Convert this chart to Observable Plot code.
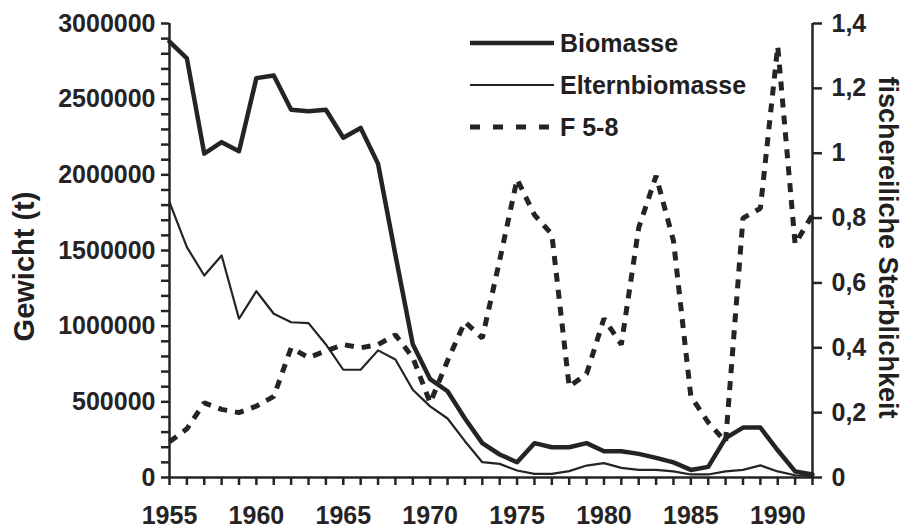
<!DOCTYPE html>
<html><head><meta charset="utf-8">
<script src="https://cdn.jsdelivr.net/npm/d3@7"></script>
<script src="https://cdn.jsdelivr.net/npm/@observablehq/plot@0.6"></script>
<style>
body{margin:0;background:#fff;}
#wrap{position:relative;width:908px;height:531px;font-family:"Liberation Sans",Arial,sans-serif;font-weight:bold;color:#231f20;}
.ttl{position:absolute;white-space:nowrap;transform-origin:center center;}
#legend{position:absolute;left:468px;top:22px;font-size:25px;line-height:1;}
.lr{display:flex;align-items:center;height:42px;}
.lr svg{margin-right:6px;}
</style></head><body><div id="wrap"></div>
<script>
const years = [1955,1956,1957,1958,1959,1960,1961,1962,1963,1964,1965,1966,1967,1968,1969,1970,1971,1972,1973,1974,1975,1976,1977,1978,1979,1980,1981,1982,1983,1984,1985,1986,1987,1988,1989,1990,1991,1992];
const biomasse = [2880000,2770000,2140000,2216000,2156000,2639000,2656000,2430000,2420000,2430000,2245000,2310000,2073000,1470000,880000,650000,570000,390000,227000,152000,101000,227000,200000,200000,227000,174000,174000,156000,130000,100000,50000,70000,260000,330000,330000,180000,40000,20000];
const elternbiomasse = [1819000,1522000,1335000,1467000,1049000,1231000,1082000,1026000,1020000,879000,712000,712000,840000,780000,580000,470000,390000,240000,101000,90000,46000,24000,24000,42000,79000,95000,64000,51000,50000,40000,20000,20000,40000,50000,80000,40000,15000,10000];
const f58 = [0.11,0.15,0.23,0.21,0.20,0.22,0.25,0.40,0.37,0.39,0.41,0.40,0.41,0.44,0.37,0.23,0.36,0.48,0.43,0.67,0.92,0.81,0.75,0.28,0.32,0.49,0.41,0.77,0.93,0.73,0.25,0.17,0.11,0.80,0.83,1.33,0.72,0.81];
const leftTicks = [0,100000,200000,300000,400000,500000,600000,700000,800000,900000,1000000,1100000,1200000,1300000,1400000,1500000,1600000,1700000,1800000,1900000,2000000,2100000,2200000,2300000,2400000,2500000,2600000,2700000,2800000,2900000,3000000];
const rightTicks = [0,0.2,0.4,0.6,0.8,1,1.2,1.4];
const xLabelYears = [1955,1960,1965,1970,1975,1980,1985,1990];
const seriesNames = ["Biomasse","Elternbiomasse","F 5-8"];
const yTitle = "Gewicht (t)";
const y2Title = "fischereiliche Sterblichkeit";

const INK = "#262324";
const K = 3000000/1.4;
const rows = years.map((yr,i)=>({year:yr, bio:biomasse[i], elt:elternbiomasse[i], f:f58[i]*K}));

const chart = Plot.plot({
  width:908, height:531,
  marginLeft:169, marginRight:96, marginTop:23, marginBottom:54,
  x:{domain:[1955,1992], axis:null},
  y:{domain:[0,3000000], axis:null},
  style:{fontFamily:'"Liberation Sans",Arial,sans-serif', fontWeight:"bold", fontSize:"25px", color:INK, background:"#fff", overflow:"visible"},
  marks:[
    Plot.axisY({ticks:leftTicks, tickFormat:d => d % 500000 === 0 ? String(d) : "", tickSize:8, tickPadding:6, strokeWidth:2.5, stroke:INK, fill:INK, label:null}),
    Plot.axisY({anchor:"right", ticks:rightTicks.map(v=>v*K), tickFormat:d => String(Math.round(d/K*10)/10).replace(".",","), tickSize:9, tickPadding:10, strokeWidth:2.5, stroke:INK, fill:INK, label:null}),
    Plot.axisX({ticks:years, tickFormat:d => xLabelYears.includes(d) ? String(d) : "", tickSize:8, tickPadding:21, strokeWidth:2.5, stroke:INK, fill:INK, label:null}),
    Plot.ruleX([1955,1992], {stroke:INK, strokeWidth:2.5}),
    Plot.ruleY([0], {stroke:INK, strokeWidth:2.5}),
    Plot.line(rows, {x:"year", y:"f", stroke:INK, strokeWidth:5, strokeDasharray:"9,8", strokeLinecap:"butt", strokeLinejoin:"miter"}),
    Plot.line(rows, {x:"year", y:"elt", stroke:INK, strokeWidth:2.2}),
    Plot.line(rows, {x:"year", y:"bio", stroke:INK, strokeWidth:4.5})
  ]
});
const wrap = document.getElementById("wrap");
wrap.appendChild(chart);

// axis titles
function addTitle(text, size, cx, cy, rot){
  const t = document.createElement("div");
  t.className = "ttl"; t.textContent = text; t.style.fontSize = size + "px";
  wrap.appendChild(t);
  const w = t.offsetWidth, h = t.offsetHeight;
  t.style.left = (cx - w/2) + "px"; t.style.top = (cy - h/2) + "px";
  t.style.transform = `rotate(${rot}deg)`;
}
addTitle(yTitle, 29, 25, 266, -90);
addTitle(y2Title, 27, 887, 247, 90);

// legend
const lg = document.createElement("div");
lg.id = "legend";
const styles = [{w:4.5,d:null},{w:2.2,d:null},{w:5,d:"10,13"}];
seriesNames.forEach((n,i)=>{
  const r = document.createElement("div"); r.className="lr";
  const s = styles[i];
  r.innerHTML = `<svg width="86" height="12"><line x1="2" x2="86" y1="6" y2="6" stroke="${INK}" stroke-width="${s.w}" ${s.d?`stroke-dasharray="${s.d}"`:""}/></svg><span>${n}</span>`;
  lg.appendChild(r);
});
wrap.appendChild(lg);
</script></body></html>
